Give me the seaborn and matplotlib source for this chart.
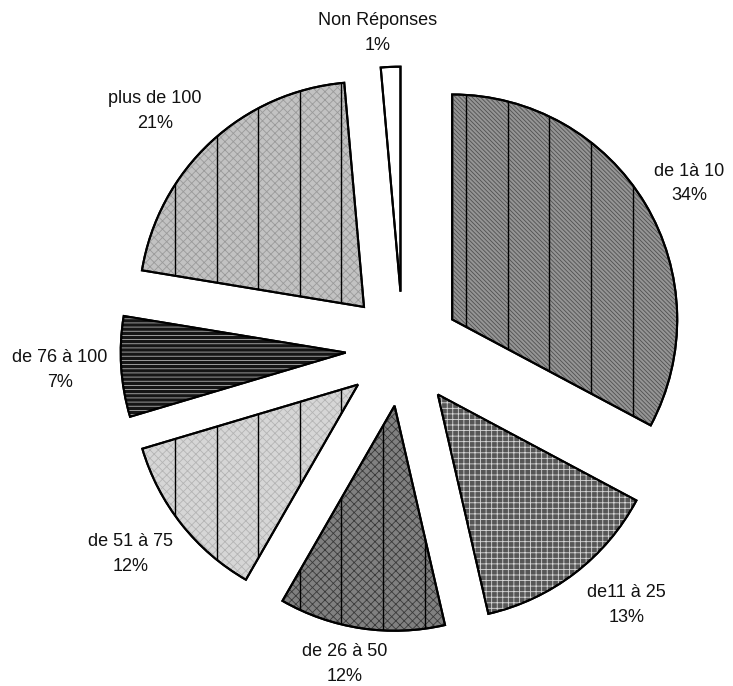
import numpy as np
import matplotlib
matplotlib.use("Agg")
import matplotlib.pyplot as plt
import seaborn as sns
from matplotlib.patches import PathPatch

# ---- data ----
categories = ["de 1à 10", "de11 à 25", "de 26 à 50", "de 51 à 75",
              "de 76 à 100", "plus de 100", "Non Réponses"]
label_percents = [34, 13, 12, 12, 7, 21, 1]          # printed in the labels
slice_shares = [32.8, 13.6, 11.9, 12.1, 7.2, 21.0, 1.4]  # angular share as drawn

# ---- styles ----
face_colors = ["#959595", "#565656", "#808080", "#d6d6d6", "#151515", "#c2c2c2", "#ffffff"]
hatches = ["\\\\\\\\\\\\\\\\", "+++", "xxxx", "xxxx", "----", "xxxx", ""]
hatch_colors = ["#505050", "#d8d8d8", "#3a3a3a", "#b4b4b4", "#b0b0b0", "#9a9a9a", "#ffffff"]
has_vlines = [True, False, True, True, False, True, False]
# label placement: (angle tweak in degrees, distance in radii) from pie centre
label_layout = [(-0.95, 1.471), (3.63, 1.511), (-1.97, 1.424), (-1.33, 1.514),
                (-0.10, 1.527), (3.37, 1.529), (2.0, 1.409)]

sns.set_style("white")
plt.rcParams["font.family"] = ["Liberation Sans", "DejaVu Sans"]
plt.rcParams["hatch.linewidth"] = 0.6

W, H = 733, 686
fig = plt.figure(figsize=(W / 100, H / 100), dpi=100)
ax = fig.add_axes([0, 0, 1, 1])

R_PX = 225.0
CX, CY = 403.0, 349.0  # pixel position of pie centre (from top-left)

wedges, _ = ax.pie(slice_shares, startangle=90, counterclock=False,
                   explode=[0.255] * len(slice_shares), radius=1.0,
                   colors=face_colors,
                   wedgeprops=dict(edgecolor="black", linewidth=1.5))
ax.set_aspect("auto")
ax.set_xlim(-CX / R_PX, (W - CX) / R_PX)
ax.set_ylim(-(H - CY) / R_PX, CY / R_PX)
ax.axis("off")

for w, hc, hatch in zip(wedges, hatch_colors, hatches):
    if hatch:
        p = PathPatch(w.get_path(), transform=w.get_transform(),
                      facecolor="none", edgecolor=hc, linewidth=0,
                      hatch=hatch, zorder=w.get_zorder() + 0.1)
        ax.add_patch(p)
    o = PathPatch(w.get_path(), transform=w.get_transform(),
                  facecolor="none", edgecolor="black", linewidth=1.5,
                  zorder=w.get_zorder() + 0.3)
    ax.add_patch(o)

# vertical pattern lines on a regular grid, clipped to the wedges
grid_x = (175.0 - CX) / R_PX + np.arange(0, 12) * (41.6 / R_PX)
for w, flag in zip(wedges, has_vlines):
    if flag:
        lc = ax.vlines(grid_x, -3, 3, colors="black", linewidth=1.0,
                       zorder=w.get_zorder() + 0.2)
        lc.set_clip_path(w)

# labels
for w, cat, pct, (dang, dist) in zip(wedges, categories, label_percents, label_layout):
    mid = 0.5 * (w.theta1 + w.theta2) + dang
    x = dist * np.cos(np.radians(mid))
    y = dist * np.sin(np.radians(mid))
    ax.text(x, y, f"{cat}\n{pct}%", ha="center", va="center",
            fontsize=13, linespacing=1.6, color="#111111")

fig.savefig("out.png", dpi=100, facecolor="white")
